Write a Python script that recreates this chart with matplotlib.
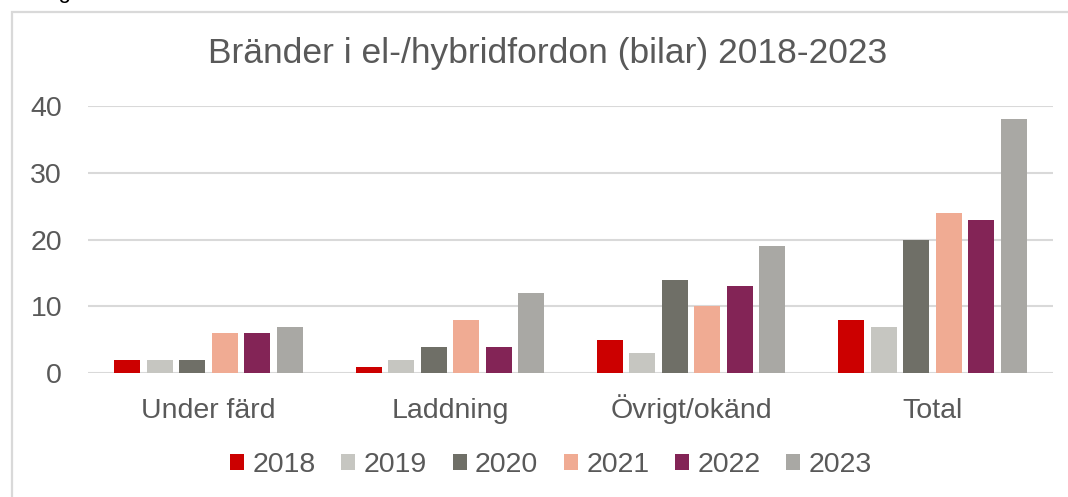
import matplotlib
matplotlib.use("Agg")
import matplotlib.pyplot as plt
import numpy as np
from matplotlib.patches import Rectangle

categories = ["Under färd", "Laddning", "Övrigt/okänd", "Total"]
years = ["2018", "2019", "2020", "2021", "2022", "2023"]
v2018 = [2, 1, 5, 8]
v2019 = [2, 2, 3, 7]
v2020 = [2, 4, 14, 20]
v2021 = [6, 8, 10, 24]
v2022 = [6, 4, 13, 23]
v2023 = [7, 12, 19, 38]
series = [v2018, v2019, v2020, v2021, v2022, v2023]
colors = ["#CC0000", "#C6C6C1", "#6F6F67", "#F0AB93", "#832456", "#A9A8A4"]
yticks = [0, 10, 20, 30, 40]

plt.rcParams['font.family'] = ['Liberation Sans', 'DejaVu Sans']
txt = "#595959"

fig = plt.figure(figsize=(10.68, 4.97), dpi=100)
fig.patches.append(Rectangle((12/1068, -0.1), 1.2, 1 - 12/497 + 0.1,
                             transform=fig.transFigure, fill=False,
                             edgecolor="#D9D9D9", linewidth=1.6))
fig.text(40/1068, 1.0 + 2/497, "Figur", fontsize=16, color="black",
         ha="left", va="baseline")

ax = fig.add_axes([88/1068, 1 - 373.3/497, 965/1068, (373.3 - 106)/497])
x = np.arange(len(categories))
step = 0.1347
width = 0.108
for i, (vals, c, lab) in enumerate(zip(series, colors, years)):
    ax.bar(x + (i - 2.5) * step, vals, width=width, color=c, label=lab,
           zorder=3)

ax.set_xlim(-0.5, len(categories) - 0.5)
ax.set_ylim(0, 40)
ax.set_yticks(yticks)
ax.set_xticks(x)
ax.set_xticklabels(categories)
for s in ax.spines.values():
    s.set_visible(False)
ax.grid(axis="y", color="#D9D9D9", linewidth=1.5, zorder=0)
ax.tick_params(axis="both", length=0, labelsize=20.5, colors=txt)
ax.tick_params(axis="y", pad=18.7)
ax.tick_params(axis="x", pad=32.4)
for lbl in ax.get_xticklabels():
    lbl.set_verticalalignment("baseline")

fig.text(548/1068, 1 - 63.3/497, "Bränder i el-/hybridfordon (bilar) 2018-2023",
         fontsize=25.5, color=txt, ha="center", va="baseline")

leg = fig.legend(loc="center", bbox_to_anchor=(551/1068, 1 - 465/497), ncol=6,
                 frameon=False, fontsize=20.5, handlelength=0.49, handleheight=0.46,
                 handletextpad=0.3, columnspacing=0.9, labelcolor=txt)

fig.savefig("out.png", dpi=100)
